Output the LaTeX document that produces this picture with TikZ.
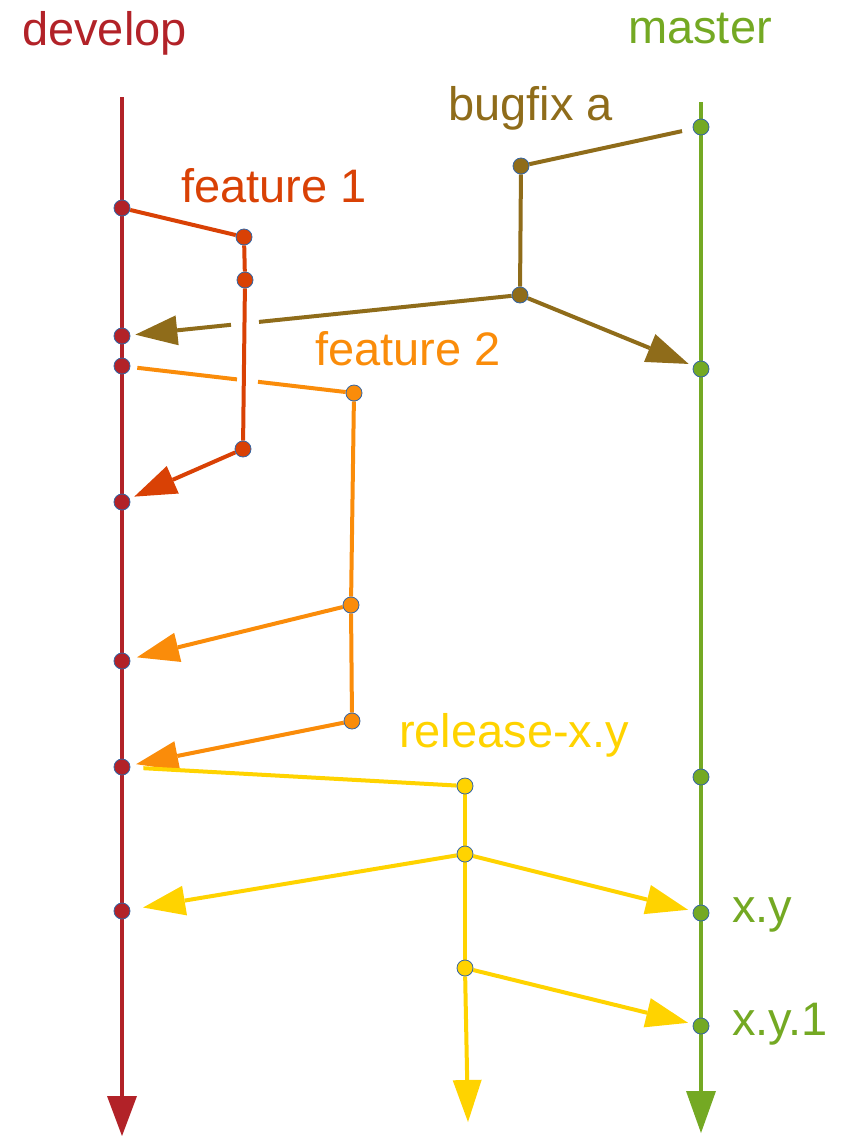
\documentclass[tikz,border=0pt]{standalone}
\usepackage{fontspec}
\setmainfont{Liberation Sans}
\usetikzlibrary{arrows.meta}

\definecolor{devcol}{RGB}{178,34,40}
\definecolor{mascol}{RGB}{116,169,35}
\definecolor{bugcol}{RGB}{143,108,26}
\definecolor{f1col}{RGB}{217,65,5}
\definecolor{f2col}{RGB}{250,140,10}
\definecolor{relcol}{RGB}{255,211,0}
\definecolor{ringcol}{RGB}{52,101,164}

\pgfdeclarelayer{lines}
\pgfsetlayers{lines,main}

\begin{document}
\begin{tikzpicture}[x=1pt,y=-1pt,
  commit/.style={circle,minimum size=16pt,inner sep=0pt,draw=ringcol,line width=0.8pt},
  trunk/.style={line width=4.5pt},
  branch/.style={line width=4pt},
  tip/.style={-{Triangle[length=42pt,width=30pt,line width=0pt]}},
  lbl/.style={anchor=base west,inner sep=0pt,font=\fontsize{47}{52}\selectfont}]

\useasboundingbox (0,0) rectangle (848,1136);

% labels
\node[lbl,text=devcol] (ldev) at (22,45) {develop};
\node[lbl,text=mascol] (lmas) at (628,43) {master};
\node[lbl,text=bugcol] (lbug) at (448,120) {bugfix a};
\node[lbl,text=f1col]  (lf1)  at (181,202) {feature 1};
\node[lbl,text=f2col]  (lf2)  at (315,365) {feature 2};
\node[lbl,text=relcol] (lrel) at (399,747) {release-x.y};
\node[lbl,text=mascol] (lxy)  at (732,922) {x.y};
\node[lbl,text=mascol] (lxy1) at (732,1035) {x.y.1};

% trunk ends
\coordinate (devtop) at (122,97);
\coordinate (devend) at (122,1136);
\coordinate (mastop) at (701,102);
\coordinate (masend) at (701,1133);
\coordinate (relend) at (468,1122);

% commits on develop
\node[commit,fill=devcol] (d1) at (122,208) {};
\node[commit,fill=devcol] (d2) at (122,336) {};
\node[commit,fill=devcol] (d3) at (122,366) {};
\node[commit,fill=devcol] (d4) at (122,502) {};
\node[commit,fill=devcol] (d5) at (122,661) {};
\node[commit,fill=devcol] (d6) at (122,767) {};
\node[commit,fill=devcol] (d7) at (122,911) {};
% commits on master
\node[commit,fill=mascol] (m1) at (701,127) {};
\node[commit,fill=mascol] (m2) at (701,369) {};
\node[commit,fill=mascol] (m3) at (701,777) {};
\node[commit,fill=mascol] (m4) at (701,913) {};
\node[commit,fill=mascol] (m5) at (701,1026) {};
% feature 1
\node[commit,fill=f1col] (a1) at (244,237) {};
\node[commit,fill=f1col] (a2) at (245,280) {};
\node[commit,fill=f1col] (a3) at (243,449) {};
% bugfix a
\node[commit,fill=bugcol] (b1) at (521,166) {};
\node[commit,fill=bugcol] (b2) at (520,295) {};
% feature 2
\node[commit,fill=f2col] (c1) at (354,393) {};
\node[commit,fill=f2col] (c2) at (351,605) {};
\node[commit,fill=f2col] (c3) at (352,721) {};
% release-x.y
\node[commit,fill=relcol] (r1) at (465,786) {};
\node[commit,fill=relcol] (r2) at (465,854) {};
\node[commit,fill=relcol] (r3) at (465,968) {};

% gap ends where lines pass behind feature 1
\coordinate (bgR) at (259,321.9);
\coordinate (bgL) at (231,324.8);
\coordinate (fgL) at (237,379.4);
\coordinate (fgR) at (258,381.8);

\begin{pgfonlayer}{lines}
% trunks
\draw[trunk,devcol,-{Triangle[length=40pt,width=30pt,line width=0pt]}] (devtop) -- (devend);
\draw[trunk,mascol,-{Triangle[length=42pt,width=30pt,line width=0pt]}] (mastop) -- (masend);

% bugfix a
\draw[branch,bugcol,shorten <=11pt] (m1) -- (b1);
\draw[branch,bugcol] (b1) -- (b2);
\draw[branch,bugcol,tip,shorten >=5pt] (b2) -- (m2);
\draw[branch,bugcol] (b2) -- (bgR);
\draw[branch,bugcol,tip,shorten >=5pt] (bgL) -- (d2);

% feature 1
\draw[branch,f1col] (d1) -- (a1);
\draw[branch,f1col] (a1) -- (a2) -- (a3);
\draw[branch,f1col,tip,shorten >=5pt] (a3) -- (d4);

% feature 2
\draw[branch,f2col,shorten <=7pt] (d3) -- (fgL);
\draw[branch,f2col] (fgR) -- (c1);
\draw[branch,f2col] (c1) -- (c2) -- (c3);
\draw[branch,f2col,tip,shorten >=7pt] (c2) -- (d5);
\draw[branch,f2col,tip,shorten >=6pt] (c3) -- (d6);

% release-x.y
\draw[branch,relcol,shorten <=13pt] (d6) -- (r1);
\draw[branch,relcol] (r1) -- (r2) -- (r3);
\draw[branch,relcol,-{Triangle[length=42pt,width=29pt,line width=0pt]}] (r3) -- (relend);
\draw[branch,relcol,tip,shorten >=13pt] (r2) -- (d7);
\draw[branch,relcol,tip,shorten >=5pt] (r2) -- (m4);
\draw[branch,relcol,tip,shorten >=5pt] (r3) -- (m5);
\end{pgfonlayer}
\end{tikzpicture}
\end{document}
